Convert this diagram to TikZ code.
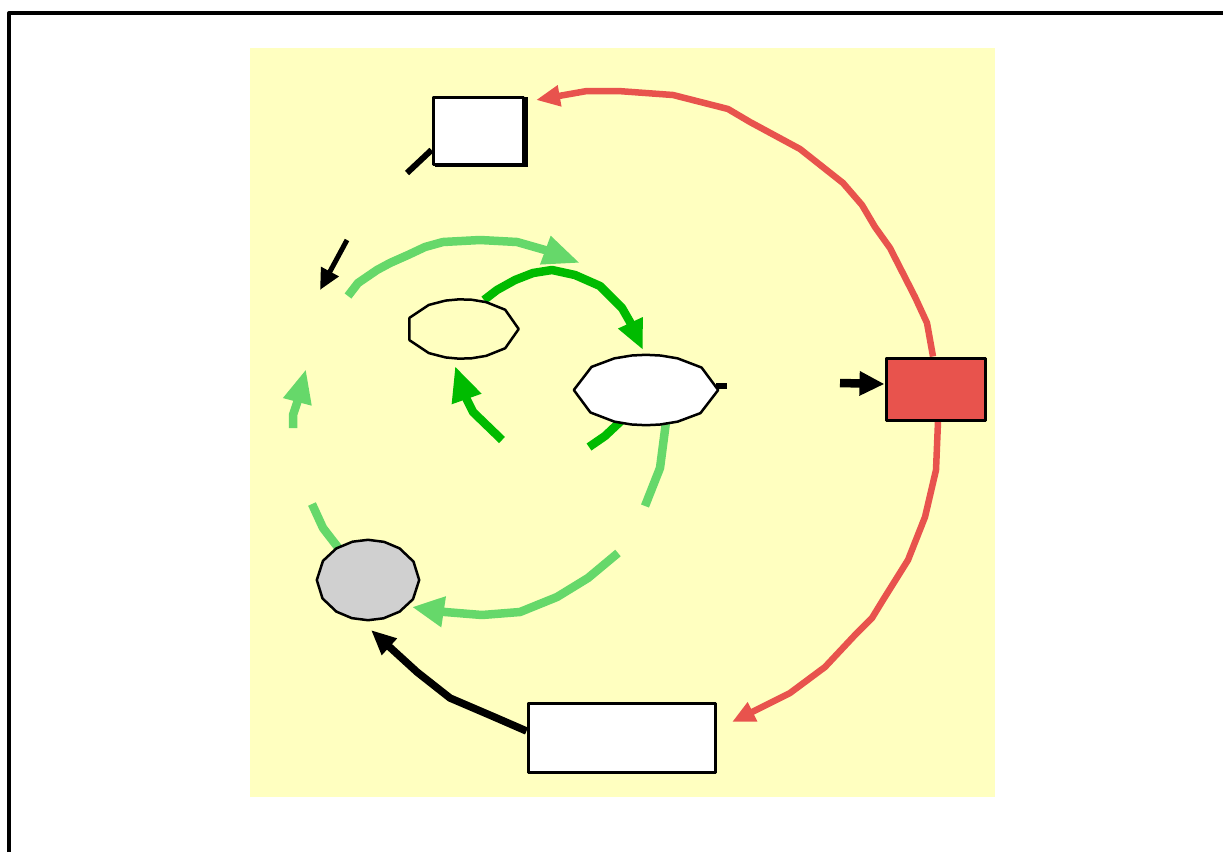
\documentclass[tikz,border=0pt]{standalone}
\usetikzlibrary{arrows.meta,shapes.geometric}
\definecolor{paper}{HTML}{FFFFC0}
\definecolor{lgreen}{HTML}{66D86A}
\definecolor{dgreen}{HTML}{00BB00}
\definecolor{redfill}{HTML}{E8534D}
\definecolor{greyfill}{HTML}{D0D0D0}

\begin{document}
\begin{tikzpicture}[x=1pt,y=-1pt,line join=round,
  box/.style={draw=black,line width=3pt,fill=white,rectangle,inner sep=0pt},
  oval/.style={ellipse,inner sep=0pt,draw=none},
  ovalline/.style={draw=black,line width=2.5pt},
  lg/.style={draw=lgreen,line width=8.5pt},
  dg/.style={draw=dgreen,line width=8.5pt},
  rd/.style={draw=redfill,line width=6.5pt},
  blk/.style={draw=black,line width=6pt},
]
\useasboundingbox (0,0) rectangle (1223,852);

% frame and panel
\draw[line width=4pt] (9,852) -- (9,13) -- (1223,13);
\fill[paper] (250,48) rectangle (995,797);

% nodes (outlines are drawn after the connectors)
\path
  node[box,minimum width=90pt,minimum height=67pt] (topbox) at (478,130.5) {}
  node[oval,minimum width=113pt,minimum height=59pt] (smallell) at (462,329) {}
  node[oval,minimum width=144pt,minimum height=70pt] (bigell) at (646,390) {}
  node[oval,minimum width=102pt,minimum height=80pt] (greyell) at (368,580) {}
  node[box,minimum width=99pt,minimum height=62pt] (redbox) at (935.5,389) {}
  node[box,minimum width=187pt,minimum height=69pt] (botbox) at (621.5,737.5) {};

% free ends of the connectors
\coordinate (lineA) at (407,173);
\coordinate (blkA0) at (347,240);   \coordinate (blkA1) at (320,290);
\coordinate (lgTop0) at (348,296);  \coordinate (lgTop1) at (580,263);
\coordinate (dgTop0) at (484,300);  \coordinate (dgTop1) at (643,350);
\coordinate (dgUp0) at (502,440);   \coordinate (dgUp1) at (455,366);
\coordinate (dgStub) at (589,447);
\coordinate (lgLeft0) at (293,428); \coordinate (lgLeft1) at (306,369);
\coordinate (lgDown) at (645,506);
\coordinate (lgArc0) at (312,504);
\coordinate (lgBot0) at (618,553);  \coordinate (lgBot1) at (412,607);
\coordinate (blkB1) at (371,630);
\coordinate (blkC0) at (840,383);
\coordinate (rdTop1) at (536,100);
\coordinate (rdBot1) at (732,722);

% connectors
\draw[blk] (topbox.west |- 0,150) -- (lineA);
\draw[blk,line width=5pt,-{Triangle[length=21pt,width=19pt]}] (blkA0) -- (blkA1);

\draw[lg,-{Triangle[length=37pt,width=28pt]}] (lgTop0) -- (358,283) -- (377,270) -- (390,263)
  -- (408,255) -- (425,247) -- (443,242) -- (480,240) -- (517,242) -- (545,250) -- (lgTop1);
\draw[dg,-{Triangle[length=30pt,width=25pt]}] (dgTop0) -- (497,290) -- (515,280) -- (533,273)
  -- (552,270) -- (575,275) -- (600,286) -- (622,308) -- (630,322) -- (dgTop1);
\draw[dg,-{Triangle[length=35pt,width=29pt]}] (dgUp0) -- (473,412) -- (467,400) -- (dgUp1);
\draw[dg] (dgStub) -- (605,436) -- (622,420);
\draw[lg,-{Triangle[length=34pt,width=27pt]}] (lgLeft0) -- (293,415) -- (297,403) -- (lgLeft1);
\draw[lg] (666,422) -- (660,468) -- (lgDown);
\draw[lg] (lgArc0) -- (323,528) -- (340,550);
\draw[lg,-{Triangle[length=32pt,width=29pt]}] (lgBot0) -- (588,578) -- (557,597) -- (520,612)
  -- (482,615) -- (445,612) -- (lgBot1);

\draw[blk,line width=7.5pt,-{Triangle[length=25pt,width=21pt]}] (botbox.west |- 0,731) -- (492,716)
  -- (450,698) -- (417,672) -- (blkB1);
\draw[blk,line width=8.5pt,-{Triangle[length=25pt,width=23pt]}] (blkC0) -- (redbox.west |- 0,384);
\draw[line width=5.5pt] (bigell.east |- 0,386) ++(-2,0) -- ++(11,0);

\draw[rd,-{Triangle[length=24pt,width=20pt]}] (redbox.north -| 933,0) -- (927,323) -- (915,297)
  -- (890,248) -- (875,227) -- (862,205) -- (843,183) -- (800,149) -- (750,122) -- (728,109)
  -- (673,95) -- (618,91) -- (587,91) -- (rdTop1);
\draw[rd,-{Triangle[length=23pt,width=20pt]}] (redbox.south -| 938,0) -- (936,470) -- (925,517)
  -- (908,560) -- (883,600) -- (872,618) -- (855,635) -- (825,667) -- (790,693) -- (rdBot1);

% node outlines on top of the connector ends
\fill[black] ([xshift=3pt,yshift=-1pt]topbox.north east) rectangle ([xshift=3pt,yshift=-1pt]topbox.south west);
\node[box,minimum width=90pt,minimum height=67pt] at (topbox) {};
\draw[ovalline] (smallell.0) \foreach \a in {24,48,...,336} { -- (smallell.\a) } -- cycle;
\draw[ovalline,fill=white] (bigell.0) \foreach \a in {22.5,45,...,337.5} { -- (bigell.\a) } -- cycle;
\draw[ovalline,fill=greyfill] (greyell.0) \foreach \a in {22.5,45,...,337.5} { -- (greyell.\a) } -- cycle;
\node[box,fill=redfill,minimum width=99pt,minimum height=62pt] at (redbox) {};
\node[box,minimum width=187pt,minimum height=69pt] at (botbox) {};
\end{tikzpicture}
\end{document}
